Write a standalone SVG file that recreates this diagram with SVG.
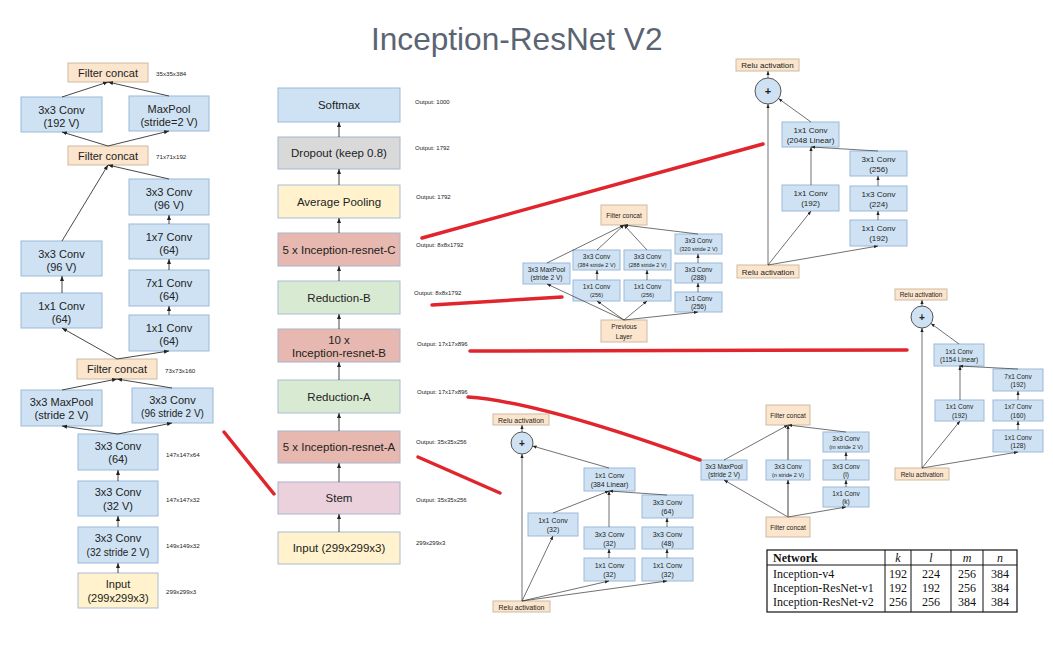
<svg xmlns="http://www.w3.org/2000/svg" width="1053" height="663" viewBox="0 0 1053 663">
<style>
.b{fill:#cfe2f3;stroke:#9cb9d9;stroke-width:1}
.cat{fill:#fce5cd;stroke:#cdb9a2;stroke-width:1}
.yel{fill:#fff2cc;stroke:#a9bcd6;stroke-width:1}
.gry{fill:#d9d9d9;stroke:#a4b7cf;stroke-width:1}
.red{fill:#e6b8af;stroke:#a9b4cc;stroke-width:1}
.grn{fill:#d9ead3;stroke:#a9bcd6;stroke-width:1}
.pnk{fill:#ead1dc;stroke:#a9b4cc;stroke-width:1}
.circ{fill:#cfe2f3;stroke:#555;stroke-width:1}
text{font-family:"Liberation Sans",Arial,sans-serif;text-anchor:middle;fill:#222}
.f11{font-size:11px}
.f10{font-size:10px}
.f115{font-size:11.5px}
.f8{font-size:8px}
.f7{font-size:7px}
.f65{font-size:6.5px}
.f56{font-size:5.6px}
.lab{font-size:6px;text-anchor:start}
.labL{font-size:6.2px;text-anchor:start}
.title{font-size:31.6px;fill:#5b6472;text-anchor:start}
.ser{font-family:"Liberation Serif","Times New Roman",serif;font-size:12px;text-anchor:start;fill:#111}
.serc{font-family:"Liberation Serif","Times New Roman",serif;font-size:12px;text-anchor:middle;fill:#111}
.plus{font-weight:bold}
.c{stroke:#333;stroke-width:0.9;fill:none;marker-end:url(#a)}
.s{stroke:#333;stroke-width:0.7;fill:none;marker-end:url(#as)}
.rl{stroke:#e1252d;stroke-width:3.5;fill:none;stroke-linecap:round}
</style>
<defs>
<marker id="a" viewBox="0 0 10 10" refX="10" refY="5" markerWidth="5" markerHeight="5" markerUnits="userSpaceOnUse" orient="auto"><path d="M0,1 L10,5 L0,9 z" fill="#222"/></marker>
<marker id="as" viewBox="0 0 10 10" refX="10" refY="5" markerWidth="4" markerHeight="4" markerUnits="userSpaceOnUse" orient="auto"><path d="M0,1 L10,5 L0,9 z" fill="#222"/></marker>
</defs>
<rect width="1053" height="663" fill="#ffffff"/>
<text class="title" x="371" y="50">Inception-ResNet V2</text>

<!-- Left stem column -->
<g id="stem-fc1"><rect class="cat" x="68" y="63" width="80" height="19"/><text class="f11" x="108" y="76.5">Filter concat</text></g>
<g id="stem-c192"><rect class="b" x="21" y="97" width="81" height="35"/><text class="f11" x="61.5" y="114">3x3 Conv</text><text class="f11" x="61.5" y="127">(192 V)</text></g>
<g id="stem-mp2"><rect class="b" x="129" y="96" width="80" height="35"/><text class="f11" x="169" y="113">MaxPool</text><text class="f11" x="169" y="126">(stride=2 V)</text></g>
<g id="stem-fc2"><rect class="cat" x="68" y="146" width="80" height="19"/><text class="f11" x="108" y="159.5">Filter concat</text></g>
<g id="stem-c96vR"><rect class="b" x="129" y="179" width="80" height="36"/><text class="f11" x="169" y="196">3x3 Conv</text><text class="f11" x="169" y="209">(96 V)</text></g>
<g id="stem-c17"><rect class="b" x="129" y="224" width="80" height="35"/><text class="f11" x="169" y="241">1x7 Conv</text><text class="f11" x="169" y="254">(64)</text></g>
<g id="stem-c71"><rect class="b" x="129" y="270" width="80" height="36"/><text class="f11" x="169" y="287">7x1 Conv</text><text class="f11" x="169" y="300">(64)</text></g>
<g id="stem-c11R"><rect class="b" x="129" y="315" width="80" height="36"/><text class="f11" x="169" y="332">1x1 Conv</text><text class="f11" x="169" y="345">(64)</text></g>
<g id="stem-c96vL"><rect class="b" x="21" y="241" width="81" height="35"/><text class="f11" x="61.5" y="258">3x3 Conv</text><text class="f11" x="61.5" y="271">(96 V)</text></g>
<g id="stem-c11L"><rect class="b" x="21" y="293" width="81" height="35"/><text class="f11" x="61.5" y="310">1x1 Conv</text><text class="f11" x="61.5" y="323">(64)</text></g>
<g id="stem-fc3"><rect class="cat" x="77" y="359" width="80" height="20"/><text class="f11" x="117" y="373">Filter concat</text></g>
<g id="stem-mp3"><rect class="b" x="21" y="390" width="81" height="36"/><text class="f11" x="61.5" y="406">3x3 MaxPool</text><text class="f11" x="61.5" y="419">(stride 2 V)</text></g>
<g id="stem-c96s2"><rect class="b" x="132" y="388" width="81" height="35"/><text class="f11" x="172.5" y="404">3x3 Conv</text><text class="f10" x="172.5" y="417">(96 stride 2 V)</text></g>
<g id="stem-c64"><rect class="b" x="78" y="434" width="80" height="36"/><text class="f11" x="118" y="450">3x3 Conv</text><text class="f11" x="118" y="463">(64)</text></g>
<g id="stem-c32v"><rect class="b" x="78" y="481" width="80" height="35"/><text class="f11" x="118" y="496">3x3 Conv</text><text class="f11" x="118" y="510">(32 V)</text></g>
<g id="stem-c32s2"><rect class="b" x="78" y="527" width="80" height="36"/><text class="f11" x="118" y="542">3x3 Conv</text><text class="f10" x="118" y="556">(32 stride 2 V)</text></g>
<g id="stem-input"><rect class="yel" x="78" y="573" width="80" height="35"/><text class="f11" x="118" y="588">Input</text><text class="f11" x="118" y="602">(299x299x3)</text></g>
<g id="stem-labels">
<text class="labL" x="156" y="76">35x35x384</text>
<text class="labL" x="156" y="159">71x71x192</text>
<text class="labL" x="165" y="373">73x73x160</text>
<text class="labL" x="166" y="457">147x147x64</text>
<text class="labL" x="166" y="502">147x147x32</text>
<text class="labL" x="166" y="548">149x149x32</text>
<text class="labL" x="166" y="594">299x299x3</text>
</g>

<!-- Middle column -->
<g id="m-softmax"><rect class="b" x="278" y="88" width="122" height="34"/><text class="f115" x="339" y="109">Softmax</text></g>
<g id="m-dropout"><rect class="gry" x="278" y="137" width="122" height="32"/><text class="f115" x="339" y="157">Dropout (keep 0.8)</text></g>
<g id="m-avgpool"><rect class="yel" x="278" y="185" width="122" height="33"/><text class="f115" x="339" y="205.5">Average Pooling</text></g>
<g id="m-resC"><rect class="red" x="278" y="233" width="122" height="33"/><text class="f115" x="339" y="253.5">5 x Inception-resnet-C</text></g>
<g id="m-redB"><rect class="grn" x="278" y="281" width="122" height="33"/><text class="f115" x="339" y="301.5">Reduction-B</text></g>
<g id="m-resB"><rect class="red" x="278" y="329" width="122" height="33"/><text class="f115" x="339" y="344">10 x</text><text class="f115" x="339" y="357">Inception-resnet-B</text></g>
<g id="m-redA"><rect class="grn" x="278" y="380" width="122" height="33"/><text class="f115" x="339" y="400.5">Reduction-A</text></g>
<g id="m-resA"><rect class="red" x="278" y="431" width="122" height="32"/><text class="f115" x="339" y="451">5 x Inception-resnet-A</text></g>
<g id="m-stem"><rect class="pnk" x="278" y="482" width="122" height="32"/><text class="f115" x="339" y="502">Stem</text></g>
<g id="m-input"><rect class="yel" x="278" y="532" width="122" height="32"/><text class="f115" x="339" y="552">Input (299x299x3)</text></g>
<g id="m-labels">
<text class="lab" x="415" y="104">Output: 1000</text>
<text class="lab" x="415" y="150">Output: 1792</text>
<text class="lab" x="416" y="199">Output: 1792</text>
<text class="lab" x="416" y="247">Output: 8x8x1792</text>
<text class="lab" x="414" y="295">Output: 8x8x1792</text>
<text class="lab" x="417" y="346">Output: 17x17x896</text>
<text class="lab" x="417" y="394">Output: 17x17x896</text>
<text class="lab" x="416" y="444">Output: 35x35x256</text>
<text class="lab" x="416" y="502">Output: 35x35x256</text>
<text class="lab" x="416" y="545">299x299x3</text>
</g>

<!-- Inception-resnet-C block -->
<g id="C-reluTop"><rect class="cat" x="736" y="59" width="63" height="12"/><text class="f8" x="767.5" y="68">Relu activation</text></g>
<g id="C-plus"><circle class="circ" cx="768" cy="91" r="13"/><text class="f11 plus" x="768" y="95">+</text></g>
<g id="C-c2048"><rect class="b" x="782" y="122" width="57" height="25"/><text class="f8" x="810.5" y="133">1x1 Conv</text><text class="f8" x="810.5" y="143">(2048 Linear)</text></g>
<g id="C-c3x1"><rect class="b" x="850" y="151" width="57" height="25"/><text class="f8" x="878.5" y="162">3x1 Conv</text><text class="f8" x="878.5" y="172">(256)</text></g>
<g id="C-c192L"><rect class="b" x="782" y="185" width="57" height="26"/><text class="f8" x="810.5" y="196">1x1 Conv</text><text class="f8" x="810.5" y="206">(192)</text></g>
<g id="C-c1x3"><rect class="b" x="850" y="186" width="57" height="25"/><text class="f8" x="878.5" y="197">1x3 Conv</text><text class="f8" x="878.5" y="207">(224)</text></g>
<g id="C-c192R"><rect class="b" x="850" y="220" width="57" height="26"/><text class="f8" x="878.5" y="231">1x1 Conv</text><text class="f8" x="878.5" y="241">(192)</text></g>
<g id="C-reluBot"><rect class="cat" x="737" y="265" width="62" height="13"/><text class="f8" x="768" y="274.5">Relu activation</text></g>

<!-- Reduction-B block -->
<g id="RB-fc"><rect class="cat" x="601" y="205" width="46" height="20"/><text class="f65" x="624" y="217.5">Filter concat</text></g>
<g id="RB-mp"><rect class="b" x="523" y="263" width="47" height="21"/><text class="f65" x="546.5" y="272">3x3 MaxPool</text><text class="f65" x="546.5" y="280">(stride 2 V)</text></g>
<g id="RB-c384"><rect class="b" x="573" y="250" width="47" height="20"/><text class="f65" x="596.5" y="259">3x3 Conv</text><text class="f56" x="596.5" y="266.5">(384 stride 2 V)</text></g>
<g id="RB-c256a"><rect class="b" x="573" y="280" width="47" height="21"/><text class="f65" x="596.5" y="289">1x1 Conv</text><text class="f56" x="596.5" y="297">(256)</text></g>
<g id="RB-c288s"><rect class="b" x="624" y="250" width="47" height="20"/><text class="f65" x="647.5" y="259">3x3 Conv</text><text class="f56" x="647.5" y="266.5">(288 stride 2 V)</text></g>
<g id="RB-c256b"><rect class="b" x="624" y="280" width="47" height="21"/><text class="f65" x="647.5" y="289">1x1 Conv</text><text class="f56" x="647.5" y="297">(256)</text></g>
<g id="RB-c320"><rect class="b" x="675" y="234" width="47" height="20"/><text class="f65" x="698.5" y="243">3x3 Conv</text><text class="f56" x="698.5" y="250.5">(320 stride 2 V)</text></g>
<g id="RB-c288"><rect class="b" x="675" y="263" width="47" height="20"/><text class="f65" x="698.5" y="272">3x3 Conv</text><text class="f65" x="698.5" y="280">(288)</text></g>
<g id="RB-c256c"><rect class="b" x="675" y="292" width="47" height="20"/><text class="f65" x="698.5" y="301">1x1 Conv</text><text class="f65" x="698.5" y="309">(256)</text></g>
<g id="RB-prev"><rect class="cat" x="601" y="320" width="46" height="22"/><text class="f65" x="624" y="329">Previous</text><text class="f65" x="624" y="338.5">Layer</text></g>

<!-- Inception-resnet-B block -->
<g id="B-reluTop"><rect class="cat" x="895" y="289" width="52" height="11"/><text class="f65" x="921" y="297">Relu activation</text></g>
<g id="B-plus"><circle class="circ" cx="922" cy="317" r="11"/><text class="f10 plus" x="922" y="320.5">+</text></g>
<g id="B-c1154"><rect class="b" x="934" y="344" width="50" height="22"/><text class="f65" x="959" y="353.5">1x1 Conv</text><text class="f65" x="959" y="362">(1154 Linear)</text></g>
<g id="B-c7x1"><rect class="b" x="993" y="369" width="50" height="22"/><text class="f65" x="1018" y="378.5">7x1 Conv</text><text class="f65" x="1018" y="387">(192)</text></g>
<g id="B-c192"><rect class="b" x="935" y="400" width="49" height="21"/><text class="f65" x="959.5" y="409">1x1 Conv</text><text class="f65" x="959.5" y="417.5">(192)</text></g>
<g id="B-c1x7"><rect class="b" x="993" y="400" width="50" height="21"/><text class="f65" x="1018" y="409">1x7 Conv</text><text class="f65" x="1018" y="417.5">(160)</text></g>
<g id="B-c128"><rect class="b" x="993" y="430" width="50" height="22"/><text class="f65" x="1018" y="439.5">1x1 Conv</text><text class="f65" x="1018" y="448">(128)</text></g>
<g id="B-reluBot"><rect class="cat" x="895" y="468" width="54" height="12"/><text class="f65" x="922" y="476.5">Relu activation</text></g>

<!-- Inception-resnet-A block -->
<g id="A-reluTop"><rect class="cat" x="493" y="414" width="56" height="11"/><text class="f7" x="521" y="422.5">Relu activation</text></g>
<g id="A-plus"><circle class="circ" cx="522" cy="443" r="11"/><text class="f10 plus" x="522" y="446.5">+</text></g>
<g id="A-c384"><rect class="b" x="584" y="468" width="51" height="23"/><text class="f7" x="609.5" y="478">1x1 Conv</text><text class="f7" x="609.5" y="487">(384 Linear)</text></g>
<g id="A-c32L"><rect class="b" x="528" y="513" width="50" height="23"/><text class="f7" x="553" y="523">1x1 Conv</text><text class="f7" x="553" y="532">(32)</text></g>
<g id="A-c3x3_32"><rect class="b" x="584" y="527" width="51" height="22"/><text class="f7" x="609.5" y="536.5">3x3 Conv</text><text class="f7" x="609.5" y="545.5">(32)</text></g>
<g id="A-c1x1_32m"><rect class="b" x="584" y="558" width="51" height="23"/><text class="f7" x="609.5" y="568">1x1 Conv</text><text class="f7" x="609.5" y="577">(32)</text></g>
<g id="A-c64"><rect class="b" x="642" y="495" width="51" height="23"/><text class="f7" x="667.5" y="505">3x3 Conv</text><text class="f7" x="667.5" y="514">(64)</text></g>
<g id="A-c48"><rect class="b" x="642" y="527" width="51" height="22"/><text class="f7" x="667.5" y="536.5">3x3 Conv</text><text class="f7" x="667.5" y="545.5">(48)</text></g>
<g id="A-c32R"><rect class="b" x="642" y="558" width="51" height="23"/><text class="f7" x="667.5" y="568">1x1 Conv</text><text class="f7" x="667.5" y="577">(32)</text></g>
<g id="A-reluBot"><rect class="cat" x="493" y="601" width="57" height="11"/><text class="f7" x="521.5" y="609.5">Relu activation</text></g>

<!-- Reduction-A block -->
<g id="RA-fcTop"><rect class="cat" x="766" y="405" width="44" height="20"/><text class="f65" x="788" y="417.5">Filter concat</text></g>
<g id="RA-mp"><rect class="b" x="701" y="460" width="46" height="20"/><text class="f65" x="724" y="469">3x3 MaxPool</text><text class="f65" x="724" y="477">(stride 2 V)</text></g>
<g id="RA-cn"><rect class="b" x="766" y="460" width="44" height="20"/><text class="f65" x="788" y="469">3x3 Conv</text><text class="f56" x="788" y="477">(n stride 2 V)</text></g>
<g id="RA-cm"><rect class="b" x="823" y="432" width="46" height="20"/><text class="f65" x="846" y="441">3x3 Conv</text><text class="f56" x="846" y="449">(m stride 2 V)</text></g>
<g id="RA-cl"><rect class="b" x="823" y="460" width="46" height="20"/><text class="f65" x="846" y="469">3x3 Conv</text><text class="f65" x="846" y="477">(l)</text></g>
<g id="RA-ck"><rect class="b" x="823" y="487" width="46" height="20"/><text class="f65" x="846" y="496">1x1 Conv</text><text class="f65" x="846" y="504">(k)</text></g>
<g id="RA-fcBot"><rect class="cat" x="766" y="517" width="44" height="20"/><text class="f65" x="788" y="529.5">Filter concat</text></g>

<!-- Connectors -->
<g id="connectors">
<path class="c" d="M118,573 L118,563"/>
<path class="c" d="M118,527 L118,516"/>
<path class="c" d="M118,481 L118,470"/>
<path class="c" d="M118,434 L62,426"/>
<path class="c" d="M118,434 L172,423"/>
<path class="c" d="M62,390 L117,379"/>
<path class="c" d="M172,388 L117,379"/>
<path class="c" d="M117,359 L62,328"/>
<path class="c" d="M117,359 L169,351"/>
<path class="c" d="M62,293 L62,276"/>
<path class="c" d="M169,315 L169,306"/>
<path class="c" d="M169,270 L169,259"/>
<path class="c" d="M169,224 L169,215"/>
<path class="c" d="M62,241 L108,165"/>
<path class="c" d="M169,179 L108,165"/>
<path class="c" d="M108,146 L62,132"/>
<path class="c" d="M108,146 L169,131"/>
<path class="c" d="M62,97 L108,82"/>
<path class="c" d="M169,96 L108,82"/>

<path class="c" d="M339,532 L339,514"/>
<path class="c" d="M339,482 L339,463"/>
<path class="c" d="M339,431 L339,413"/>
<path class="c" d="M339,380 L339,362"/>
<path class="c" d="M339,329 L339,314"/>
<path class="c" d="M339,281 L339,266"/>
<path class="c" d="M339,233 L339,218"/>
<path class="c" d="M339,185 L339,169"/>
<path class="c" d="M339,137 L339,122"/>

<path class="s" d="M768,78 L768,71"/>
<path class="s" d="M768,265 L768,104"/>
<path class="s" d="M768,265 L811,211"/>
<path class="s" d="M768,265 L878,246"/>
<path class="s" d="M811,185 L811,147"/>
<path class="s" d="M878,220 L878,211"/>
<path class="s" d="M878,186 L878,176"/>
<path class="s" d="M878,151 L811,147"/>
<path class="s" d="M811,122 L778.5,98.6"/>

<path class="s" d="M624,320 L547,284"/>
<path class="s" d="M624,320 L597,301"/>
<path class="s" d="M624,320 L647,301"/>
<path class="s" d="M624,320 L698,312"/>
<path class="s" d="M597,280 L597,270"/>
<path class="s" d="M647,280 L647,270"/>
<path class="s" d="M698,292 L698,283"/>
<path class="s" d="M698,263 L698,254"/>
<path class="s" d="M547,263 L624,225"/>
<path class="s" d="M597,250 L624,225"/>
<path class="s" d="M647,250 L624,225"/>
<path class="s" d="M698,234 L624,225"/>

<path class="s" d="M922,306 L922,300"/>
<path class="s" d="M922,468 L922,328"/>
<path class="s" d="M922,468 L960,421"/>
<path class="s" d="M922,468 L1018,452"/>
<path class="s" d="M960,400 L960,366"/>
<path class="s" d="M1018,430 L1018,421"/>
<path class="s" d="M1018,400 L1018,391"/>
<path class="s" d="M1018,369 L959,366"/>
<path class="s" d="M959,344 L931,323.5"/>

<path class="s" d="M522,432 L522,425"/>
<path class="s" d="M522,601 L522,454"/>
<path class="s" d="M522,601 L553,536"/>
<path class="s" d="M522,601 L609,581"/>
<path class="s" d="M522,601 L667,581"/>
<path class="s" d="M609,558 L609,549"/>
<path class="s" d="M609,527 L609,491"/>
<path class="s" d="M667,558 L667,549"/>
<path class="s" d="M667,527 L667,518"/>
<path class="s" d="M667,495 L609,491"/>
<path class="s" d="M553,513 L609,491"/>
<path class="s" d="M609,468 L532.6,446"/>

<path class="s" d="M788,517 L724,480"/>
<path class="s" d="M788,517 L788,480" style="stroke:#777;stroke-width:1.4"/>
<path class="s" d="M788,517 L846,507"/>
<path class="s" d="M846,487 L846,480"/>
<path class="s" d="M846,460 L846,452"/>
<path class="s" d="M724,460 L788,425"/>
<path class="s" d="M788,460 L788,425" style="stroke:#777;stroke-width:1.4"/>
<path class="s" d="M846,432 L788,425"/>
</g>

<!-- Red pointer lines -->
<g id="pointers">
<path class="rl" d="M422,238 L763,144"/>
<path class="rl" d="M432,305 L562,297"/>
<path class="rl" d="M470,351 L907,350"/>
<path class="rl" d="M468,397 Q540,402 700,460"/>
<path class="rl" d="M418,457 L500,493"/>
<path class="rl" d="M224,432 L274,494"/>
</g>

<!-- Table -->
<g id="table">
<rect x="767" y="550" width="250" height="62" fill="#fff" stroke="#111" stroke-width="1.2"/>
<path d="M767,565 L1017,565 M885,550 L885,612 M911,550 L911,612 M951,550 L951,612 M983,550 L983,612" stroke="#111" stroke-width="1" fill="none"/>
<text class="ser" x="773" y="562" font-weight="bold">Network</text>
<text class="serc" x="898" y="562" font-style="italic">k</text>
<text class="serc" x="931" y="562" font-style="italic">l</text>
<text class="serc" x="967" y="562" font-style="italic">m</text>
<text class="serc" x="1000" y="562" font-style="italic">n</text>
<text class="ser" x="773" y="578">Inception-v4</text>
<text class="serc" x="898" y="578">192</text><text class="serc" x="931" y="578">224</text><text class="serc" x="967" y="578">256</text><text class="serc" x="1000" y="578">384</text>
<text class="ser" x="773" y="592">Inception-ResNet-v1</text>
<text class="serc" x="898" y="592">192</text><text class="serc" x="931" y="592">192</text><text class="serc" x="967" y="592">256</text><text class="serc" x="1000" y="592">384</text>
<text class="ser" x="773" y="606">Inception-ResNet-v2</text>
<text class="serc" x="898" y="606">256</text><text class="serc" x="931" y="606">256</text><text class="serc" x="967" y="606">384</text><text class="serc" x="1000" y="606">384</text>
</g>
</svg>
